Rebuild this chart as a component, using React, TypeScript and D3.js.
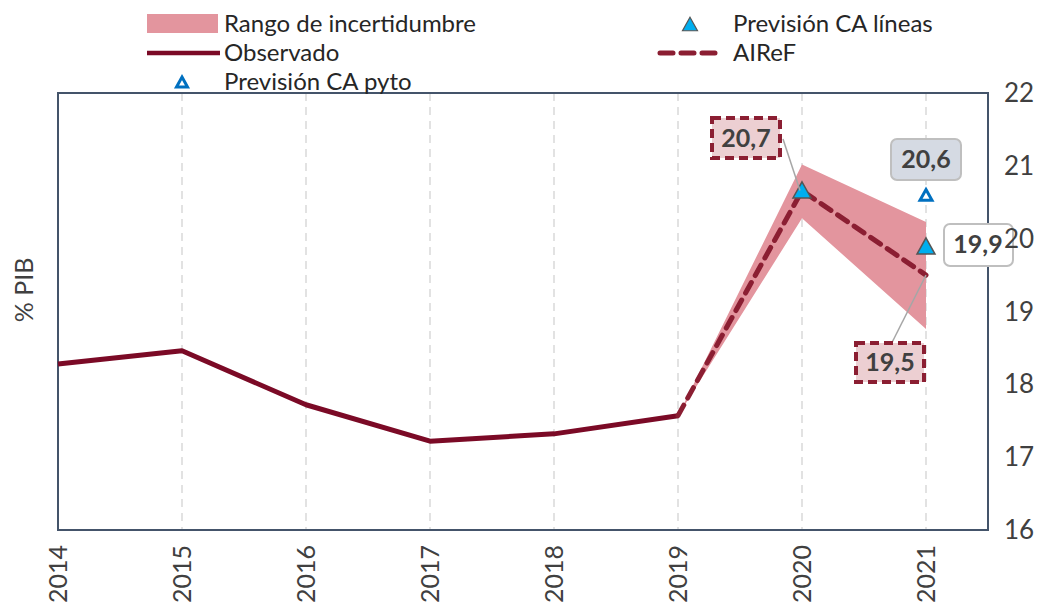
import React from 'react';
import * as d3 from 'd3';

// data
const years = [2014, 2015, 2016, 2017, 2018, 2019, 2020, 2021];
const observado = [18.28, 18.46, 17.72, 17.22, 17.32, 17.57];
const airefYears = [2019, 2020, 2021];
const airef = [17.57, 20.66, 19.5];
const rangoLow = [17.57, 20.28, 18.76];
const rangoHigh = [17.57, 21.02, 20.23];
const lineasYears = [2020, 2021];
const lineas = [20.67, 19.9];
const pytoYears = [2021];
const pyto = [20.6];
const yTicks = [16, 17, 18, 19, 20, 21, 22];

const W = 1046, H = 605;
const margin = {top: 93, right: 58, bottom: 75, left: 58};
const FONT = 'Lato, "Open Sans", sans-serif';

const maroon = '#7b0a26';
const dashRed = '#8b1e32';
const rangeFill = '#e3959e';
const cyan = '#00aeef';
const blue = '#0070c0';
const frame = '#44546a';

function tri(cx: number, cy: number, s: number) {
  const h = s * 0.9;
  return `M${cx},${cy - h / 2}L${cx + s / 2},${cy + h / 2}L${cx - s / 2},${cy + h / 2}Z`;
}

export default function App() {
  const x = d3.scaleLinear().domain([2014, 2021.5]).range([margin.left, W - margin.right]);
  const y = d3.scaleLinear().domain([16, 22]).range([H - margin.bottom, margin.top]);

  const line = d3.line<[number, number]>().x(d => x(d[0])).y(d => y(d[1]));
  const area = d3.area<number>()
    .x((d, i) => x(airefYears[i]))
    .y0((d, i) => y(rangoLow[i]))
    .y1((d, i) => y(rangoHigh[i]));

  const obsPts = observado.map((v, i) => [years[i], v] as [number, number]);
  const airefPts = airef.map((v, i) => [airefYears[i], v] as [number, number]);

  const x0 = margin.left, x1 = W - margin.right, y0 = margin.top, y1 = H - margin.bottom;

  return (
    <svg width={W} height={H} style={{position: 'absolute', left: 0, top: 0, fontFamily: FONT}}>
      <rect x={0} y={0} width={W} height={H} fill="#fff" />
      {/* grid */}
      {years.slice(1).map(yr => (
        <line key={yr} x1={x(yr)} x2={x(yr)} y1={y0} y2={y1} stroke="#d9d9d9" strokeWidth={1.5} strokeDasharray="8,6" />
      ))}
      {/* frame */}
      <rect x={x0} y={y0} width={x1 - x0} height={y1 - y0} fill="none" stroke={frame} strokeWidth={2} />

      {/* series */}
      <path d={area(rangoLow) || ''} fill={rangeFill} />
      <path d={line(obsPts) || ''} fill="none" stroke={maroon} strokeWidth={5} strokeLinejoin="round" />
      <path d={line(airefPts) || ''} fill="none" stroke={dashRed} strokeWidth={5} strokeDasharray="12,8" strokeLinecap="round" />
      {lineas.map((v, i) => (
        <path key={i} d={tri(x(lineasYears[i]), y(v), 18)} fill={cyan} stroke="#555" strokeWidth={1.5} />
      ))}
      {pyto.map((v, i) => (
        <path key={i} d={tri(x(pytoYears[i]), y(v), 12)} fill="#fff" stroke={blue} strokeWidth={3} />
      ))}

      {/* leader lines */}
      <line x1={x(2020) - 19} y1={139} x2={x(2020) - 2} y2={y(airef[1])} stroke="#a6a6a6" strokeWidth={1.5} />
      <line x1={x(2021) - 34} y1={y(19) + 31} x2={x(2021)} y2={y(airef[2])} stroke="#a6a6a6" strokeWidth={1.5} />

      {/* data labels */}
      <g fontWeight="bold" fontSize={25} fill="#404040" textAnchor="middle">
        <rect x={x(2020) - 90} y={118} width={68} height={40} fill="#eccfd2" stroke={dashRed} strokeWidth={4} strokeDasharray="9,5" />
        <text x={x(2020) - 56} y={147}>20,7</text>
        <rect x={x(2021) - 35} y={139} width={70} height={41} rx={6} fill="#d5dae3" stroke="#bfbfbf" strokeWidth={2} />
        <text x={x(2021)} y={168}>20,6</text>
        <rect x={x(2021) + 18} y={224} width={69} height={42} rx={6} fill="#fff" stroke="#bfbfbf" strokeWidth={2} />
        <text x={x(2021) + 52} y={253}>19,9</text>
        <rect x={x(2021) - 70} y={343} width={68} height={39} fill="#eccfd2" stroke={dashRed} strokeWidth={4} strokeDasharray="9,5" />
        <text x={x(2021) - 36} y={371}>19,5</text>
      </g>

      {/* right axis */}
      {yTicks.map(t => (
        <text key={t} x={1004} y={y(t) + 9} fontSize={26} fill="#404040">{t}</text>
      ))}
      {/* x axis labels */}
      {years.map(yr => (
        <text key={yr} transform={`translate(${x(yr) + 9},${545}) rotate(-90)`} textAnchor="end" fontSize={25} fill="#404040">{yr}</text>
      ))}
      <text transform={`translate(33,290) rotate(-90)`} textAnchor="middle" fontSize={25} fill="#404040">% PIB</text>

      {/* legend */}
      <g fontSize={24} fill="#262626">
        <rect x={147} y={14} width={71} height={19} fill={rangeFill} />
        <text x={224} y={32}>Rango de incertidumbre</text>
        <line x1={147} x2={220} y1={53} y2={53} stroke={maroon} strokeWidth={4.5} />
        <text x={224} y={61}>Observado</text>
        <path d={tri(182, 82, 11)} fill="#fff" stroke={blue} strokeWidth={3} />
        <text x={224} y={90}>Previsión CA pyto</text>
        <path d={tri(690, 24, 15)} fill={cyan} stroke="#555" strokeWidth={1.2} />
        <text x={733} y={32}>Previsión CA líneas</text>
        <line x1={660} x2={720} y1={53} y2={53} stroke={dashRed} strokeWidth={5} strokeDasharray="13,8" strokeLinecap="round" />
        <text x={733} y={61}>AIReF</text>
      </g>
    </svg>
  );
}
